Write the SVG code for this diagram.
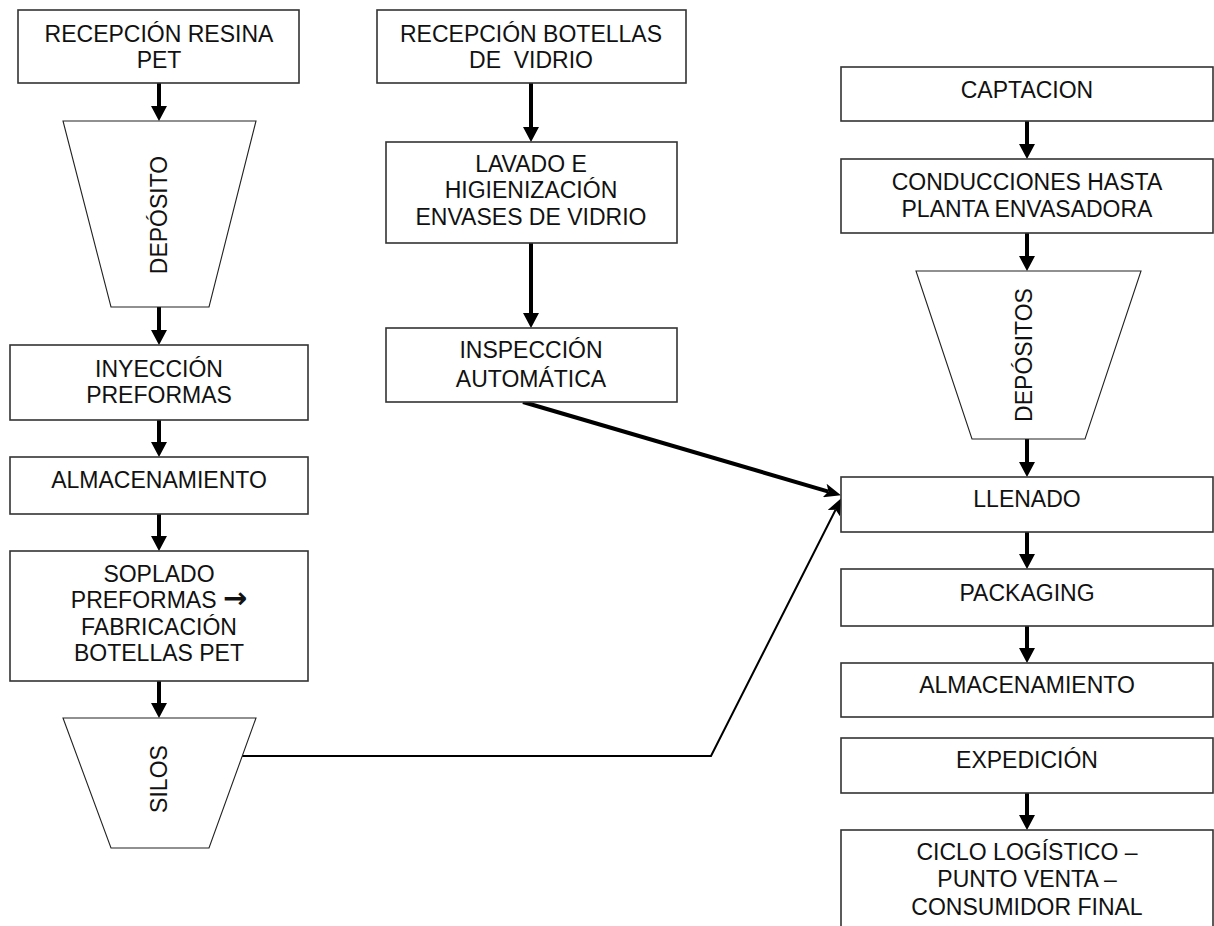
<svg xmlns="http://www.w3.org/2000/svg" width="1214" height="926" viewBox="0 0 1214 926">
<defs>
<style>
.box{fill:#fff;stroke:#333;stroke-width:1.6}
.trap{fill:#fff;stroke:#222;stroke-width:1.1}
.t{font-family:"Liberation Sans",Arial,sans-serif;font-size:23px;fill:#111;text-anchor:middle;white-space:pre}
.a{stroke:#000;stroke-width:4;fill:none}
.thin{stroke:#000;stroke-width:2;fill:none}
</style>
<marker id="ah" viewBox="0 0 15 16" refX="1" refY="8" markerWidth="15" markerHeight="16" markerUnits="userSpaceOnUse" orient="auto">
<path d="M0,0 L15,8 L0,16 z" fill="#000"/>
</marker>
<marker id="an" viewBox="0 0 17 14" refX="4" refY="7" markerWidth="17" markerHeight="14" markerUnits="userSpaceOnUse" orient="auto">
<path d="M0,0 L17,7 L0,14 L4,7 z" fill="#000"/>
</marker>
</defs>
<rect width="1214" height="926" fill="#fff"/>

<g id="connectors">
<line class="a" x1="159" y1="83" x2="159" y2="107" marker-end="url(#ah)"/>
<line class="a" x1="159" y1="307" x2="159" y2="331" marker-end="url(#ah)"/>
<line class="a" x1="159" y1="420" x2="159" y2="443" marker-end="url(#ah)"/>
<line class="a" x1="159" y1="514" x2="159" y2="537" marker-end="url(#ah)"/>
<line class="a" x1="159" y1="681" x2="159" y2="704" marker-end="url(#ah)"/>
<line class="a" x1="531" y1="83" x2="531" y2="128" marker-end="url(#ah)"/>
<line class="a" x1="531" y1="243" x2="531" y2="314" marker-end="url(#ah)"/>
<line class="a" x1="1027" y1="121" x2="1027" y2="145" marker-end="url(#ah)"/>
<line class="a" x1="1027" y1="233" x2="1027" y2="257" marker-end="url(#ah)"/>
<line class="a" x1="1027" y1="439" x2="1027" y2="463" marker-end="url(#ah)"/>
<line class="a" x1="1027" y1="532" x2="1027" y2="555" marker-end="url(#ah)"/>
<line class="a" x1="1027" y1="626" x2="1027" y2="649" marker-end="url(#ah)"/>
<line class="a" x1="1027" y1="793" x2="1027" y2="816" marker-end="url(#ah)"/>
<line class="a" x1="523" y1="402" x2="828.5" y2="491.6" marker-end="url(#an)"/>
<polyline class="thin" points="242,756 711,756 835.6,509.7" marker-end="url(#an)"/>
</g>

<g id="n-resina"><rect class="box" x="18" y="10" width="281" height="73"/>
<text class="t" x="159" y="42">RECEPCIÓN RESINA</text><text class="t" x="159" y="68">PET</text></g>
<g id="n-deposito"><polygon class="trap" points="63,121 256,121 209,307 111,307"/>
<text class="t" transform="translate(167,215) rotate(-90)">DEPÓSITO</text></g>
<g id="n-inyeccion"><rect class="box" x="10" y="345" width="298" height="75"/>
<text class="t" x="159" y="377">INYECCIÓN</text><text class="t" x="159" y="403">PREFORMAS</text></g>
<g id="n-almac1"><rect class="box" x="10" y="457" width="298" height="57"/>
<text class="t" x="159" y="488">ALMACENAMIENTO</text></g>
<g id="n-soplado"><rect class="box" x="10" y="551" width="298" height="130"/>
<text class="t" x="159" y="582">SOPLADO</text><text class="t" x="159" y="608">PREFORMAS <tspan font-family="'DejaVu Sans',sans-serif" font-weight="bold" font-size="29">→</tspan></text>
<text class="t" x="159" y="635">FABRICACIÓN</text><text class="t" x="159" y="661">BOTELLAS PET</text></g>
<g id="n-silos"><polygon class="trap" points="63,718 256,718 209,848 111,848"/>
<text class="t" transform="translate(167,779) rotate(-90)">SILOS</text></g>

<g id="n-botellas"><rect class="box" x="377" y="10" width="309" height="73"/>
<text class="t" x="531" y="42">RECEPCIÓN BOTELLAS</text><text class="t" x="531" y="68" xml:space="preserve">DE  VIDRIO</text></g>
<g id="n-lavado"><rect class="box" x="386" y="142" width="291" height="101"/>
<text class="t" x="531" y="172">LAVADO E</text><text class="t" x="531" y="198">HIGIENIZACIÓN</text><text class="t" x="531" y="225">ENVASES DE VIDRIO</text></g>
<g id="n-inspeccion"><rect class="box" x="386" y="328" width="291" height="74"/>
<text class="t" x="531" y="358">INSPECCIÓN</text><text class="t" x="531" y="387">AUTOMÁTICA</text></g>

<g id="n-captacion"><rect class="box" x="841" y="67" width="372" height="54"/>
<text class="t" x="1027" y="98">CAPTACION</text></g>
<g id="n-conducciones"><rect class="box" x="841" y="159" width="372" height="74"/>
<text class="t" x="1027" y="190">CONDUCCIONES HASTA</text><text class="t" x="1027" y="217">PLANTA ENVASADORA</text></g>
<g id="n-depositos"><polygon class="trap" points="916,271 1141,271 1085,439 972,439"/>
<text class="t" transform="translate(1032,355) rotate(-90)">DEPÓSITOS</text></g>
<g id="n-llenado"><rect class="box" x="841" y="477" width="372" height="55"/>
<text class="t" x="1027" y="507">LLENADO</text></g>
<g id="n-packaging"><rect class="box" x="841" y="569" width="372" height="57"/>
<text class="t" x="1027" y="601">PACKAGING</text></g>
<g id="n-almac2"><rect class="box" x="841" y="663" width="372" height="54"/>
<text class="t" x="1027" y="693">ALMACENAMIENTO</text></g>
<g id="n-expedicion"><rect class="box" x="841" y="738" width="372" height="55"/>
<text class="t" x="1027" y="768">EXPEDICIÓN</text></g>
<g id="n-ciclo"><rect class="box" x="841" y="830" width="372" height="110"/>
<text class="t" x="1027" y="860">CICLO LOGÍSTICO –</text><text class="t" x="1027" y="887">PUNTO VENTA –</text><text class="t" x="1027" y="915">CONSUMIDOR FINAL</text></g>
</svg>
